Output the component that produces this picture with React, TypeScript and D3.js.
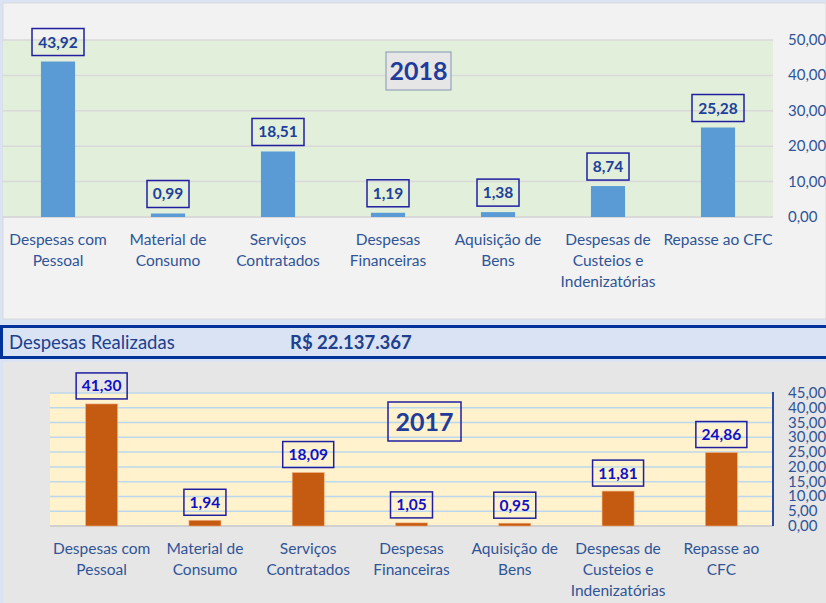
import React from "react";
import * as d3 from "d3";

const categories2018: string[][] = [
  ["Despesas com", "Pessoal"],
  ["Material de", "Consumo"],
  ["Serviços", "Contratados"],
  ["Despesas", "Financeiras"],
  ["Aquisição de", "Bens"],
  ["Despesas de", "Custeios e", "Indenizatórias"],
  ["Repasse ao CFC"],
];
const categories2017: string[][] = [
  ["Despesas com", "Pessoal"],
  ["Material de", "Consumo"],
  ["Serviços", "Contratados"],
  ["Despesas", "Financeiras"],
  ["Aquisição de", "Bens"],
  ["Despesas de", "Custeios e", "Indenizatórias"],
  ["Repasse ao", "CFC"],
];
const values2018: number[] = [43.92, 0.99, 18.51, 1.19, 1.38, 8.74, 25.28];
const values2017: number[] = [41.3, 1.94, 18.09, 1.05, 0.95, 11.81, 24.86];
const ticks2018: number[] = [0, 10, 20, 30, 40, 50];
const ticks2017: number[] = [0, 5, 10, 15, 20, 25, 30, 35, 40, 45];
const totalLabel = "Despesas Realizadas";
const totalValue = "R$ 22.137.367";

const FONT = "Lato, 'Open Sans', sans-serif";
const fmt = (v: number) => v.toFixed(2).replace(".", ",");

export default function App() {
  const W = 826, H = 603;

  const t = { left: 3, right: 773, top: 40, bottom: 217 };
  const xTop = d3
    .scaleBand<number>()
    .domain(d3.range(values2018.length))
    .range([t.left, t.right])
    .paddingInner(0.69)
    .paddingOuter(0.345);
  const yTop = d3.scaleLinear().domain([0, 50]).range([t.bottom, t.top]);

  const b = { left: 50, right: 773, top: 393, bottom: 526 };
  const xBot = d3
    .scaleBand<number>()
    .domain(d3.range(values2017.length))
    .range([b.left, b.right])
    .paddingInner(0.69)
    .paddingOuter(0.345);
  const yBot = d3.scaleLinear().domain([0, 45]).range([b.bottom, b.top]);

  return (
    <svg
      width={W}
      height={H}
      style={{ position: "absolute", left: 0, top: 0, fontFamily: FONT }}
    >
      <rect x={0} y={0} width={W} height={H} fill="#dae3f3" />
      <rect x={3} y={3} width={W - 3} height={316} fill="#f2f2f2" stroke="#d9d9d9" strokeWidth={1} />
      <rect x={t.left} y={t.top} width={t.right - t.left} height={t.bottom - t.top} fill="#e2efda" />
      {ticks2018.map((v) => (
        <g key={"gt" + v}>
          <line
            x1={t.left}
            x2={t.right}
            y1={yTop(v)}
            y2={yTop(v)}
            stroke="#d9d9d9"
            strokeWidth={v === 0 ? 2 : 1.5}
          />
          <text x={788} y={yTop(v) + 5} fontSize={15} fill="#2f5597">
            {fmt(v)}
          </text>
        </g>
      ))}
      {values2018.map((v, i) => {
        const x = xTop(i)!;
        const bw = xTop.bandwidth();
        const cx = x + bw / 2;
        const top = yTop(v);
        const label = fmt(v);
        const boxW = label.length > 4 ? 52 : 42;
        return (
          <g key={"bt" + i}>
            <rect x={x} y={top} width={bw} height={t.bottom - top} fill="#5b9bd5" />
            <rect
              x={cx - boxW / 2}
              y={top - 33}
              width={boxW}
              height={27}
              fill="none"
              stroke="#1f1fa0"
              strokeWidth={1.5}
            />
            <text x={cx} y={top - 14} textAnchor="middle" fontSize={15.5} fontWeight={700} fill="#203f9a">
              {label}
            </text>
            {categories2018[i].map((ln, j) => (
              <text key={j} x={cx} y={245 + j * 21} textAnchor="middle" fontSize={15.5} fill="#2f5597">
                {ln}
              </text>
            ))}
          </g>
        );
      })}
      <rect x={386} y={52} width={65} height={38} fill="#e7e6e6" stroke="#8497b0" strokeWidth={1} />
      <text x={418.5} y={80} textAnchor="middle" fontSize={25} fontWeight={700} fill="#1f3c99">
        2018
      </text>

      <rect x={1.5} y={326.5} width={W} height={31} fill="#dae3f3" stroke="#003399" strokeWidth={3} />
      <text x={9} y={349} fontSize={18.5} fill="#203f8f">
        {totalLabel}
      </text>
      <text x={290} y={349} fontSize={18.5} fontWeight={700} fill="#203f8f">
        {totalValue}
      </text>

      <rect x={3} y={362} width={W - 3} height={H - 362} fill="#e7e6e6" />
      <rect x={b.left} y={b.top} width={b.right - b.left} height={b.bottom - b.top} fill="#fff2cc" />
      {ticks2017.map((v) => (
        <g key={"gb" + v}>
          <line
            x1={b.left}
            x2={b.right}
            y1={yBot(v)}
            y2={yBot(v)}
            stroke={v === 0 ? "#d0d0d0" : "#bdd7ee"}
            strokeWidth={v === 0 ? 2 : 1.5}
          />
          <text x={788} y={yBot(v) + 5} fontSize={15} fill="#2f5597">
            {fmt(v)}
          </text>
        </g>
      ))}
      <line x1={b.right} x2={b.right} y1={b.top - 1} y2={b.bottom} stroke="#2a4aa8" strokeWidth={2} />
      {values2017.map((v, i) => {
        const x = xBot(i)!;
        const bw = xBot.bandwidth();
        const cx = x + bw / 2;
        const top = yBot(v);
        const label = fmt(v);
        const boxW = label.length > 4 ? 51 : 42;
        return (
          <g key={"bb" + i}>
            <rect x={x} y={top} width={bw} height={b.bottom - top} fill="#c55a11" stroke="#f4b183" strokeWidth={0.6} />
            <rect
              x={cx - boxW / 2}
              y={top - 31}
              width={boxW}
              height={26}
              fill="none"
              stroke="#1f1fa0"
              strokeWidth={1.5}
            />
            <text x={cx} y={top - 12.5} textAnchor="middle" fontSize={15.5} fontWeight={700} fill="#1010c8">
              {label}
            </text>
            {categories2017[i].map((ln, j) => (
              <text key={j} x={cx} y={554 + j * 21} textAnchor="middle" fontSize={15.5} fill="#2f5597">
                {ln}
              </text>
            ))}
          </g>
        );
      })}
      <rect x={388} y={402} width={73} height={39} fill="none" stroke="#1f1fa0" strokeWidth={1.5} />
      <text x={424.5} y={431} textAnchor="middle" fontSize={25} fontWeight={700} fill="#1f3c99">
        2017
      </text>
    </svg>
  );
}
